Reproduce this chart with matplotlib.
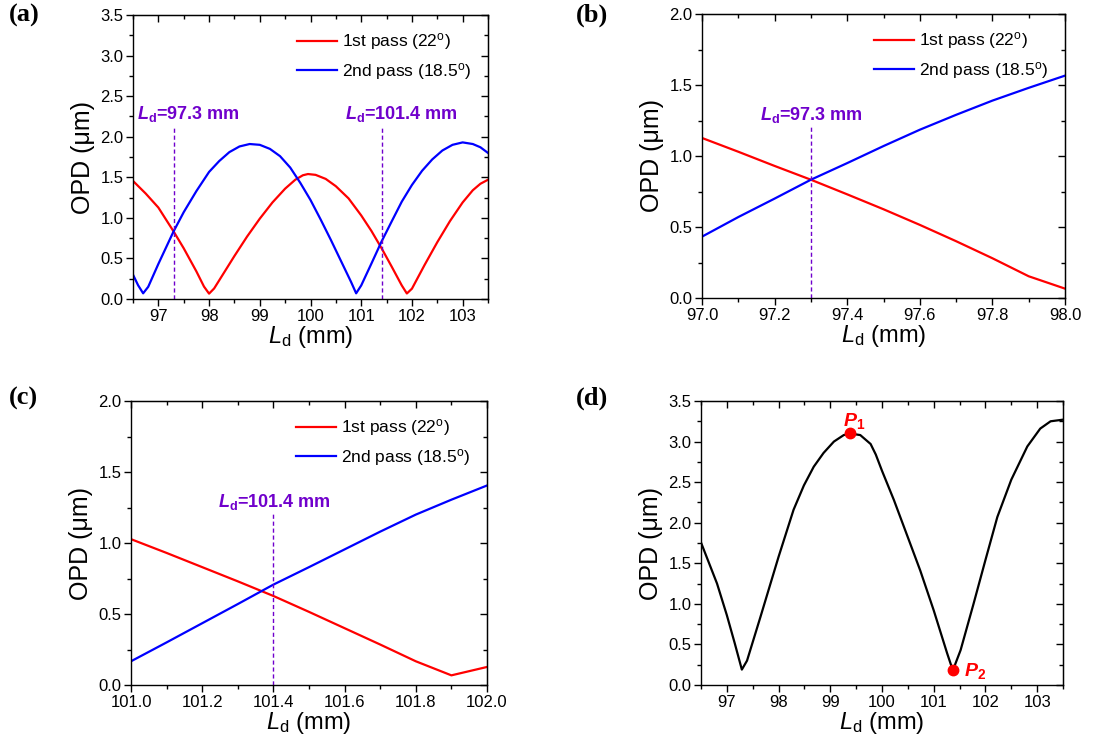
import matplotlib
matplotlib.use("Agg")
import matplotlib.pyplot as plt
from matplotlib.ticker import MultipleLocator, FormatStrFormatter

plt.rcParams['font.family'] = ['Liberation Sans', 'DejaVu Sans']
plt.rcParams['mathtext.fontset'] = 'custom'
plt.rcParams['mathtext.rm'] = 'Liberation Sans'
plt.rcParams['mathtext.it'] = 'Liberation Sans:italic'
plt.rcParams['mathtext.bf'] = 'Liberation Sans:bold'
plt.rcParams['mathtext.bfit'] = 'Liberation Sans:italic:bold'

RED = '#FF0000'
BLUE = '#0000FF'
PURPLE = '#7000CC'

# ---- (a) full range, both passes ----
a_red_x = [96.5, 96.75, 97.0, 97.3, 97.5, 97.75, 97.9, 98.0, 98.1, 98.3, 98.5, 98.75, 99.0, 99.25,
           99.5, 99.7, 99.85, 99.95, 100.1, 100.3, 100.5, 100.75, 101.0, 101.2, 101.4, 101.6,
           101.8, 101.9, 102.0, 102.25, 102.5, 102.75, 103.0, 103.2, 103.35, 103.5]
a_red_y = [1.455, 1.30, 1.127, 0.833, 0.625, 0.34, 0.153, 0.066, 0.13, 0.33, 0.53, 0.77, 0.99, 1.19,
           1.36, 1.47, 1.525, 1.54, 1.53, 1.48, 1.39, 1.24, 1.03, 0.84, 0.627, 0.40,
           0.167, 0.068, 0.127, 0.42, 0.70, 0.96, 1.19, 1.34, 1.42, 1.47]
a_blue_x = [96.5, 96.6, 96.7, 96.8, 97.0, 97.3, 97.5, 97.75, 98.0, 98.2, 98.4, 98.6, 98.8, 99.0,
            99.2, 99.4, 99.6, 99.8, 100.0, 100.2, 100.4, 100.6, 100.8, 100.9, 101.0, 101.2,
            101.4, 101.6, 101.8, 102.0, 102.2, 102.4, 102.6, 102.8, 103.0, 103.2, 103.35, 103.5]
a_blue_y = [0.30, 0.17, 0.07, 0.15, 0.432, 0.833, 1.07, 1.33, 1.566, 1.70, 1.81, 1.88, 1.91, 1.90,
            1.85, 1.76, 1.62, 1.43, 1.22, 0.98, 0.73, 0.47, 0.21, 0.07, 0.167, 0.435,
            0.707, 0.955, 1.20, 1.405, 1.58, 1.72, 1.83, 1.90, 1.93, 1.91, 1.87, 1.80]

# ---- (b) zoom around 97.3 mm ----
b_x = [97.0, 97.1, 97.2, 97.3, 97.4, 97.5, 97.6, 97.7, 97.8, 97.9, 98.0]
b_red = [1.127, 1.03, 0.93, 0.833, 0.73, 0.625, 0.515, 0.40, 0.28, 0.153, 0.066]
b_blue = [0.432, 0.57, 0.70, 0.833, 0.95, 1.07, 1.185, 1.29, 1.39, 1.48, 1.566]

# ---- (c) zoom around 101.4 mm ----
c_x = [101.0, 101.1, 101.2, 101.3, 101.4, 101.5, 101.6, 101.7, 101.8, 101.9, 102.0]
c_red = [1.027, 0.93, 0.83, 0.73, 0.627, 0.515, 0.40, 0.285, 0.167, 0.068, 0.127]
c_blue = [0.167, 0.30, 0.435, 0.57, 0.707, 0.83, 0.955, 1.08, 1.20, 1.305, 1.405]

# ---- (d) total OPD ----
d_x = [96.5, 96.81, 97.0, 97.15, 97.29, 97.39, 97.65, 98.0, 98.29, 98.49, 98.68, 98.87, 99.07,
       99.26, 99.38, 99.58, 99.78, 99.88, 100.0, 100.23, 100.5, 100.74, 101.0, 101.26, 101.37,
       101.52, 101.77, 102.0, 102.23, 102.5, 102.81, 103.06, 103.26, 103.5]
d_y = [1.756, 1.25, 0.86, 0.52, 0.19, 0.30, 0.84, 1.58, 2.16, 2.46, 2.69, 2.86, 3.0,
       3.08, 3.10, 3.08, 2.97, 2.84, 2.64, 2.28, 1.82, 1.41, 0.92, 0.39, 0.18,
       0.43, 1.0, 1.54, 2.07, 2.53, 2.94, 3.16, 3.25, 3.27]
p_names = ['$\\mathbfit{P}_\\mathbf{1}$', '$\\mathbfit{P}_\\mathbf{2}$']
p_x = [99.38, 101.37]
p_y = [3.10, 0.19]

legend_labels = ['1st pass (22$^\\mathrm{o}$)', '2nd pass (18.5$^\\mathrm{o}$)']
XLABEL = '$\\mathit{L}_\\mathrm{d}$ (mm)'
YLABEL = 'OPD (\u03bcm)'


def style_axes(ax, xlim, ylim, xmaj, xmin, ymaj, ymin, xfmt):
    ax.set_xlim(*xlim)
    ax.set_ylim(*ylim)
    ax.xaxis.set_major_locator(MultipleLocator(xmaj))
    ax.xaxis.set_minor_locator(MultipleLocator(xmin))
    ax.yaxis.set_major_locator(MultipleLocator(ymaj))
    ax.yaxis.set_minor_locator(MultipleLocator(ymin))
    ax.xaxis.set_major_formatter(FormatStrFormatter(xfmt))
    ax.yaxis.set_major_formatter(FormatStrFormatter('%.1f'))
    ax.tick_params(which='both', direction='out', width=1, labelsize=12, pad=2)
    ax.tick_params(which='major', length=5)
    ax.tick_params(which='minor', length=3)
    for s in ax.spines.values():
        s.set_linewidth(1)
    # mirrored ticks on top / right, pointing inwards
    top = ax.secondary_xaxis('top')
    top.xaxis.set_major_locator(MultipleLocator(xmaj))
    top.xaxis.set_minor_locator(MultipleLocator(xmin))
    top.tick_params(which='both', direction='in', labeltop=False, width=1)
    top.tick_params(which='major', length=5)
    top.tick_params(which='minor', length=3)
    right = ax.secondary_yaxis('right')
    right.yaxis.set_major_locator(MultipleLocator(ymaj))
    right.yaxis.set_minor_locator(MultipleLocator(ymin))
    right.tick_params(which='both', direction='in', labelright=False, width=1)
    right.tick_params(which='major', length=5)
    right.tick_params(which='minor', length=3)
    ax.set_xlabel(XLABEL, fontsize=17, labelpad=0)
    ax.set_ylabel(YLABEL, fontsize=18, labelpad=4)


def add_legend(ax):
    ax.legend(legend_labels, loc='upper right', bbox_to_anchor=(1.0, 1.0), frameon=False,
              fontsize=12.5, handlelength=2.3, handletextpad=0.3, labelspacing=0.5,
              borderaxespad=0.55)


def mark_ld(ax, x, top, tx, ty, label):
    ax.plot([x, x], [0, top], color=PURPLE, lw=1, ls=(0, (3, 2)))
    ax.text(tx, ty, label, color=PURPLE, fontsize=13, fontweight='bold',
            ha='left', va='baseline')


fig = plt.figure(figsize=(11.09, 7.49), dpi=100)
ax_a = fig.add_axes([133 / 1109, 1 - 299 / 749, 355 / 1109, 284 / 749])
ax_b = fig.add_axes([702 / 1109, 1 - 298 / 749, 363 / 1109, 284 / 749])
ax_c = fig.add_axes([131 / 1109, 1 - 685 / 749, 356 / 1109, 284 / 749])
ax_d = fig.add_axes([701 / 1109, 1 - 685 / 749, 362 / 1109, 284 / 749])

# (a)
ax_a.plot(a_red_x, a_red_y, color=RED, lw=1.6)
ax_a.plot(a_blue_x, a_blue_y, color=BLUE, lw=1.6)
style_axes(ax_a, (96.5, 103.5), (0, 3.5), 1, 0.5, 0.5, 0.25, '%d')
add_legend(ax_a)
mark_ld(ax_a, 97.3, 2.12, 96.585, 2.22, '$\\mathbfit{L}_\\mathbf{d}$=97.3 mm')
mark_ld(ax_a, 101.4, 2.12, 100.69, 2.22, '$\\mathbfit{L}_\\mathbf{d}$=101.4 mm')

# (b)
ax_b.plot(b_x, b_red, color=RED, lw=1.6)
ax_b.plot(b_x, b_blue, color=BLUE, lw=1.6)
style_axes(ax_b, (97.0, 98.0), (0, 2.0), 0.2, 0.1, 0.5, 0.25, '%.1f')
add_legend(ax_b)
mark_ld(ax_b, 97.3, 1.21, 97.16, 1.256, '$\\mathbfit{L}_\\mathbf{d}$=97.3 mm')

# (c)
ax_c.plot(c_x, c_red, color=RED, lw=1.6)
ax_c.plot(c_x, c_blue, color=BLUE, lw=1.6)
style_axes(ax_c, (101.0, 102.0), (0, 2.0), 0.2, 0.1, 0.5, 0.25, '%.1f')
add_legend(ax_c)
mark_ld(ax_c, 101.4, 1.21, 101.245, 1.25, '$\\mathbfit{L}_\\mathbf{d}$=101.4 mm')

# (d)
ax_d.plot(d_x, d_y, color='black', lw=1.6)
ax_d.plot(p_x, p_y, 'o', color=RED, ms=7.5)
style_axes(ax_d, (96.5, 103.5), (0, 3.5), 1, 0.5, 0.5, 0.25, '%d')
ax_d.text(99.25, 3.19, p_names[0], color=RED, fontsize=14, ha='left', va='baseline')
ax_d.text(101.59, 0.11, p_names[1], color=RED, fontsize=14, ha='left', va='baseline')

for lab, (px, py) in zip(['(a)', '(b)', '(c)', '(d)'],
                         [(9, 4), (576, 4), (9, 387), (576, 387)]):
    fig.text(px / 1109, 1 - py / 749, lab, fontsize=19, fontweight='bold',
             family=['Liberation Serif', 'DejaVu Serif'], ha='left', va='top')

fig.savefig('out.png', dpi=100)
